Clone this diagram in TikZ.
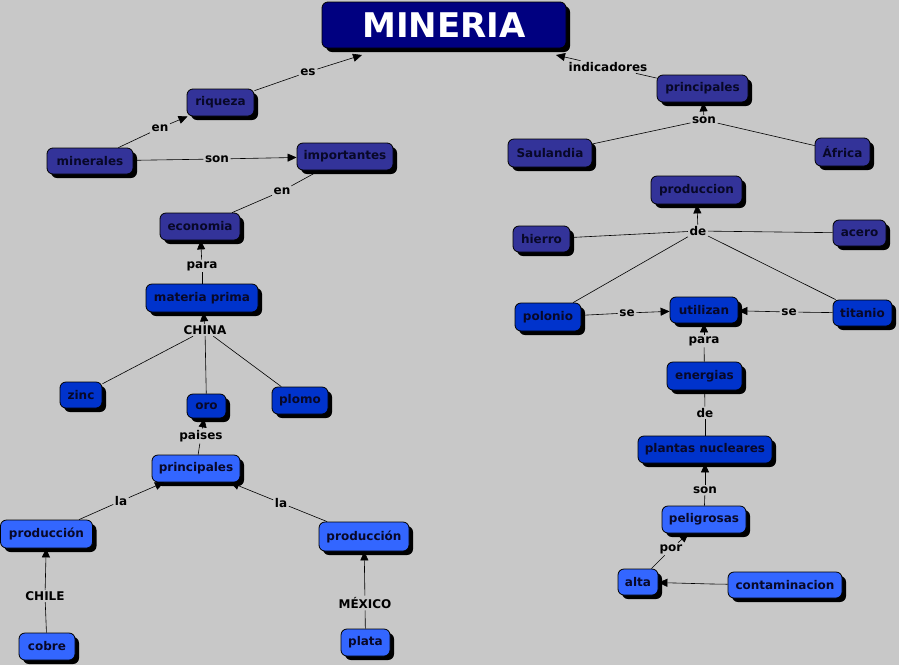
\documentclass[tikz,border=0pt]{standalone}
\usepackage{fontspec}
\setmainfont{DejaVu Sans}
\usetikzlibrary{arrows.meta,shadows}
\definecolor{bg}{RGB}{200,200,200}
\definecolor{cA}{RGB}{51,51,153}
\definecolor{cB}{RGB}{0,51,204}
\definecolor{cC}{RGB}{51,102,255}
\definecolor{navyc}{RGB}{0,0,128}
\definecolor{txt}{RGB}{8,8,40}
\tikzset{
  concept/.style={draw=black, line width=0.8pt, rounded corners=6pt,
    font=\bfseries\fontsize{12}{14}\selectfont, text=txt, inner sep=0pt,
    drop shadow={shadow xshift=4pt, shadow yshift=-4pt, fill=black, opacity=1}},
  ca/.style={concept, fill=cA},
  cb/.style={concept, fill=cB},
  cc/.style={concept, fill=cC},
  lab/.style={font=\bfseries\fontsize{12}{14}\selectfont, text=black, fill=bg, inner sep=1.5pt},
  link/.style={draw=black, line width=0.6pt},
  arr/.style={link, -{Triangle[length=9pt,width=8pt]}}
}
\begin{document}
\begin{tikzpicture}[x=1pt,y=-1pt]
\fill[bg] (0,0) rectangle (899,665);
\useasboundingbox (0,0) rectangle (899,665);

% concepts
\node[concept, fill=navyc, text=white, minimum width=244, minimum height=46,
  font=\bfseries\fontsize{34}{38}\selectfont] (MIN) at (444,25) {MINERIA};
\coordinate (minL) at (362,55);
\coordinate (minR) at (556,55);
\node[ca, minimum width=67, minimum height=27] (riq) at (220.5,102.5) {riqueza};
\node[ca, minimum width=86, minimum height=26] (mine) at (90,161) {minerales};
\node[ca, minimum width=96, minimum height=27] (imp) at (345,156.5) {importantes};
\node[ca, minimum width=80, minimum height=27] (eco) at (200,226.5) {economia};
\node[cb, minimum width=112, minimum height=28] (mat) at (202,298) {materia prima};
\node[cb, minimum width=42, minimum height=26] (zinc) at (81,395) {zinc};
\node[cb, minimum width=39, minimum height=24] (oro) at (206.5,406) {oro};
\node[cb, minimum width=56, minimum height=27] (plomo) at (300,400.5) {plomo};
\node[cc, minimum width=88, minimum height=27] (prinL) at (196,468.5) {principales};
\node[cc, minimum width=92, minimum height=28] (prodL) at (46.5,534) {producción};
\node[cc, minimum width=90, minimum height=29] (prodR) at (364,536.5) {producción};
\node[cc, minimum width=56, minimum height=27] (cobre) at (47,646.5) {cobre};
\node[cc, minimum width=49, minimum height=27] (plata) at (365.5,642.5) {plata};

\node[ca, minimum width=91, minimum height=27] (prinR) at (702.5,88.5) {principales};
\node[ca, minimum width=84, minimum height=28] (saul) at (550,153) {Saulandia};
\node[ca, minimum width=55, minimum height=28] (afr) at (842.5,152) {África};
\node[ca, minimum width=91, minimum height=28] (prodn) at (696.5,190) {produccion};
\node[ca, minimum width=57, minimum height=26] (hierro) at (541.5,239) {hierro};
\node[ca, minimum width=53, minimum height=26] (acero) at (859.5,233) {acero};
\node[cb, minimum width=66, minimum height=28] (polonio) at (548,317) {polonio};
\node[cb, minimum width=68, minimum height=26] (util) at (704,310) {utilizan};
\node[cb, minimum width=59, minimum height=26] (titanio) at (862.5,313) {titanio};
\node[cb, minimum width=75, minimum height=28] (energ) at (704.5,376) {energias};
\node[cb, minimum width=134, minimum height=27] (plantas) at (705,449.5) {plantas nucleares};
\node[cc, minimum width=84, minimum height=27] (pelig) at (704,519.5) {peligrosas};
\node[cc, minimum width=40, minimum height=26] (alta) at (638,582) {alta};
\node[cc, minimum width=114, minimum height=26] (contam) at (785,585) {contaminacion};

% linking phrases
\node[lab] (es) at (308,72) {es};
\node[lab] (indic) at (608,67) {indicadores};
\node[lab] (en1) at (160,128) {en};
\node[lab] (son1) at (217,159) {son};
\node[lab] (en2) at (282,191) {en};
\node[lab] (para1) at (202,266) {para};
\node[lab] (china) at (205,330) {CHINA};
\node[lab] (paises) at (201,436) {paises};
\node[lab] (la1) at (121,501) {la};
\node[lab] (la2) at (281,503) {la};
\node[lab] (chile) at (45,596) {CHILE};
\node[lab] (mexico) at (365,603) {MÉXICO};
\node[lab] (son2) at (704,120) {son};
\node[lab] (de1) at (698,231) {de};
\node[lab] (se1) at (627,313) {se};
\node[lab] (se2) at (789,312) {se};
\node[lab] (para2) at (704,341) {para};
\node[lab] (de2) at (705,413) {de};
\node[lab] (son3) at (705,490) {son};
\node[lab] (por) at (671,549) {por};
\coordinate (empt) at (712,584);

% connectors
\draw[link] (riq) -- (es); \draw[arr] (es) -- (minL);
\draw[link] (prinR) -- (indic); \draw[arr] (indic) -- (minR);
\draw[link] (mine) -- (en1); \draw[arr] (en1) -- (riq);
\draw[link] (mine) -- (son1); \draw[arr] (son1) -- (imp);
\draw[link] (imp) -- (en2); \draw[link] (en2) -- (eco);
\draw[link] (mat) -- (para1); \draw[arr] (para1) -- (eco);
\draw[link] (zinc) -- (china);
\draw[link] (oro) -- (china);
\draw[link] (plomo) -- (china);
\draw[arr] (china) -- (mat);
\draw[link] (prinL) -- (paises); \draw[arr] (paises) -- (oro);
\draw[link] (prodL) -- (la1); \draw[arr] (la1) -- (prinL);
\draw[link] (prodR) -- (la2); \draw[arr] (la2) -- (prinL);
\draw[link] (cobre) -- (chile); \draw[arr] (chile) -- (prodL);
\draw[link] (plata) -- (mexico); \draw[arr] (mexico) -- (prodR);

\draw[link] (saul) -- (son2);
\draw[link] (afr) -- (son2);
\draw[arr] (son2) -- (prinR);
\draw[link] (hierro) -- (de1);
\draw[link] (acero) -- (de1);
\draw[link] (polonio) -- (de1);
\draw[link] (titanio) -- (de1);
\draw[arr] (de1) -- (prodn);
\draw[link] (polonio) -- (se1); \draw[arr] (se1) -- (util);
\draw[link] (titanio) -- (se2); \draw[arr] (se2) -- (util);
\draw[link] (energ) -- (para2); \draw[arr] (para2) -- (util);
\draw[link] (plantas) -- (de2); \draw[link] (de2) -- (energ);
\draw[link] (pelig) -- (son3); \draw[arr] (son3) -- (plantas);
\draw[link] (alta) -- (por); \draw[arr] (por) -- (pelig);
\draw[link] (contam) -- (empt); \draw[arr] (empt) -- (alta);
\end{tikzpicture}
\end{document}
